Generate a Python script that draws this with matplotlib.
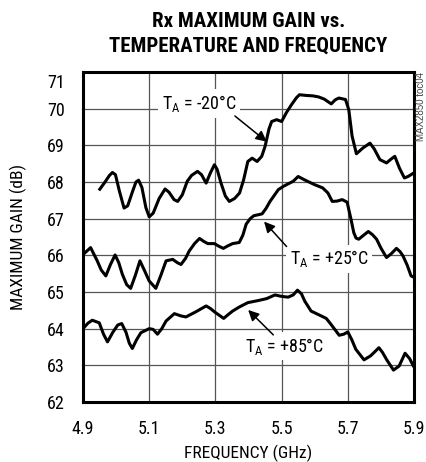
import matplotlib
matplotlib.use('Agg')
import matplotlib.pyplot as plt
import matplotlib.transforms as mtransforms

# 좁은 글꼴 우선, 없으면 다음 것으로
plt.rcParams['font.family'] = ['Roboto Condensed', 'Archivo Narrow', 'Liberation Sans Narrow',
                               'Liberation Sans', 'DejaVu Sans']
plt.rcParams['mathtext.default'] = 'regular'

# ===== 데이터 =====
freq_m20 = [4.948, 4.965, 4.980, 4.989, 4.998, 5.010, 5.024, 5.035, 5.050, 5.060,
            5.068, 5.078, 5.090, 5.100, 5.112, 5.130, 5.148, 5.160, 5.175, 5.186,
            5.200, 5.215, 5.228, 5.246, 5.258, 5.272, 5.285, 5.297, 5.305, 5.317,
            5.330, 5.342, 5.358, 5.373, 5.385, 5.398, 5.411, 5.426, 5.440, 5.450,
            5.462, 5.470, 5.485, 5.500, 5.515, 5.530, 5.545, 5.554, 5.575, 5.594,
            5.612, 5.629, 5.650, 5.662, 5.673, 5.693, 5.703, 5.713, 5.726, 5.736,
            5.746, 5.767, 5.780, 5.797, 5.817, 5.830, 5.842, 5.856, 5.871, 5.882,
            5.891, 5.900]
gain_m20 = [67.77, 67.98, 68.18, 68.26, 68.20, 67.75, 67.29, 67.35, 67.75, 68.00,
            68.05, 67.85, 67.30, 67.05, 67.15, 67.55, 67.81, 67.72, 67.52, 67.47,
            67.65, 68.02, 68.18, 68.29, 68.20, 67.97, 68.25, 68.47, 68.35, 67.97,
            67.62, 67.47, 67.55, 67.70, 68.05, 68.56, 68.65, 68.56, 68.70, 68.97,
            69.45, 69.65, 69.70, 69.65, 69.90, 70.11, 70.30, 70.38, 70.36, 70.35,
            70.32, 70.26, 70.13, 70.24, 70.29, 70.25, 69.97, 69.25, 68.77, 68.85,
            68.93, 69.06, 68.90, 68.61, 68.52, 68.62, 68.70, 68.38, 68.11, 68.15,
            68.20, 68.25]

freq_p25 = [4.900, 4.923, 4.943, 4.955, 4.969, 4.983, 4.997, 5.008, 5.019, 5.032,
            5.044, 5.058, 5.072, 5.085, 5.100, 5.120, 5.135, 5.151, 5.171, 5.185,
            5.196, 5.210, 5.221, 5.237, 5.252, 5.265, 5.277, 5.297, 5.310, 5.324,
            5.338, 5.352, 5.372, 5.383, 5.393, 5.405, 5.416, 5.441, 5.453, 5.465,
            5.490, 5.505, 5.520, 5.535, 5.550, 5.569, 5.599, 5.624, 5.640, 5.653,
            5.668, 5.683, 5.698, 5.710, 5.718, 5.725, 5.733, 5.748, 5.762, 5.775,
            5.787, 5.800, 5.817, 5.832, 5.847, 5.858, 5.867, 5.880, 5.891, 5.900]
gain_p25 = [66.02, 66.21, 65.85, 65.60, 65.44, 65.75, 66.01, 65.80, 65.48, 65.20,
            65.10, 65.45, 65.85, 65.60, 65.30, 65.10, 65.45, 65.85, 65.89, 65.80,
            65.75, 65.92, 66.12, 66.32, 66.46, 66.38, 66.32, 66.32, 66.25, 66.19,
            66.26, 66.32, 66.35, 66.55, 66.85, 67.00, 67.08, 67.13, 67.28, 67.47,
            67.79, 67.88, 67.95, 68.02, 68.15, 68.06, 67.93, 67.84, 67.70, 67.47,
            67.48, 67.52, 67.45, 66.97, 66.62, 66.47, 66.44, 66.55, 66.65, 66.56,
            66.44, 66.20, 65.94, 66.05, 66.19, 66.10, 65.98, 65.72, 65.44, 65.40]

freq_p85 = [4.900, 4.915, 4.928, 4.949, 4.962, 4.974, 4.990, 5.005, 5.017, 5.030,
            5.040, 5.049, 5.062, 5.075, 5.100, 5.112, 5.125, 5.138, 5.151, 5.176,
            5.195, 5.211, 5.241, 5.272, 5.285, 5.297, 5.325, 5.338, 5.352, 5.372,
            5.398, 5.431, 5.455, 5.480, 5.500, 5.520, 5.535, 5.548, 5.560, 5.570,
            5.589, 5.619, 5.635, 5.649, 5.674, 5.688, 5.700, 5.712, 5.724, 5.749,
            5.769, 5.794, 5.805, 5.817, 5.838, 5.855, 5.873, 5.887, 5.900]
gain_p85 = [64.00, 64.15, 64.23, 64.16, 63.85, 63.64, 63.90, 64.10, 64.14, 63.90,
            63.60, 63.46, 63.70, 63.89, 64.00, 63.98, 63.85, 64.00, 64.21, 64.41,
            64.35, 64.32, 64.46, 64.62, 64.55, 64.46, 64.28, 64.38, 64.48, 64.59,
            64.71, 64.77, 64.82, 64.92, 64.88, 64.86, 64.92, 65.05, 64.95, 64.75,
            64.48, 64.35, 64.28, 64.12, 63.82, 63.85, 63.91, 63.70, 63.44, 63.15,
            63.26, 63.48, 63.35, 63.16, 62.87, 62.98, 63.33, 63.18, 62.95]

x_ticks = [4.9, 5.1, 5.3, 5.5, 5.7, 5.9]
y_ticks = list(range(62, 72))

# ===== 그림 =====
fig = plt.figure(figsize=(4.26, 4.62), dpi=100)
ax = fig.add_axes([83 / 426, 60 / 462, 331 / 426, 330 / 462])

for f, g in [(freq_m20, gain_m20), (freq_p25, gain_p25), (freq_p85, gain_p85)]:
    ax.plot(f, g, color='black', linewidth=2.2, solid_joinstyle='round',
            solid_capstyle='butt', zorder=3)

ax.set_xlim(4.9, 5.9)
ax.set_ylim(62, 71)
ax.set_xticks(x_ticks)
ax.set_xticklabels([f'{v:.1f}' for v in x_ticks])
ax.set_yticks(y_ticks)
ax.grid(True, color='#555555', linewidth=0.9)
ax.set_axisbelow(True)
ax.tick_params(length=0, labelsize=13, pad=13)
for s in ax.spines.values():
    s.set_linewidth(2.2)

# 71 라벨은 살짝 아래로
lbl71 = ax.get_yticklabels()[-1]
lbl71.set_transform(lbl71.get_transform() +
                    mtransforms.ScaledTranslation(0, -9 / 100, fig.dpi_scale_trans))

ax.set_xlabel('FREQUENCY (GHz)', fontsize=12.5, labelpad=5)
ax.set_ylabel('MAXIMUM GAIN (dB)', fontsize=12.5)
ax.yaxis.set_label_coords(-0.168, 0.5)

# 라벨 + 화살표
box = dict(boxstyle='square,pad=0.2', fc='white', ec='none')
labels = [(5.138, 69.99, r'T$_{A}$ = -20°C'),
          (5.525, 65.76, r'T$_{A}$ = +25°C'),
          (5.389, 63.37, r'T$_{A}$ = +85°C')]
for x, y, t in labels:
    ax.text(x, y, t, fontsize=13, ha='left', va='baseline', bbox=box, zorder=2)

arrows = [((5.455, 69.10), (5.359, 69.80)),
          ((5.447, 66.92), (5.515, 66.24)),
          ((5.399, 64.51), (5.475, 63.83))]
for tip, tail in arrows:
    ax.annotate('', xy=tip, xytext=tail,
                arrowprops=dict(arrowstyle='-|>', color='black', lw=1.1,
                                mutation_scale=16, shrinkA=0, shrinkB=0),
                zorder=4)

fig.text(248.5 / 426, 1 - 27 / 462, 'Rx MAXIMUM GAIN vs.', fontsize=15,
         fontweight=900, ha='center', va='baseline')
fig.text(248.5 / 426, 1 - 52 / 462, 'TEMPERATURE AND FREQUENCY', fontsize=15,
         fontweight=900, ha='center', va='baseline')
fig.text(421.5 / 426, 1 - 72 / 462, 'MAX2850 toc04', fontsize=7, rotation=90,
         ha='center', va='top', color='#444444', family=['Liberation Sans', 'DejaVu Sans'])

fig.savefig('out.png', dpi=100)
